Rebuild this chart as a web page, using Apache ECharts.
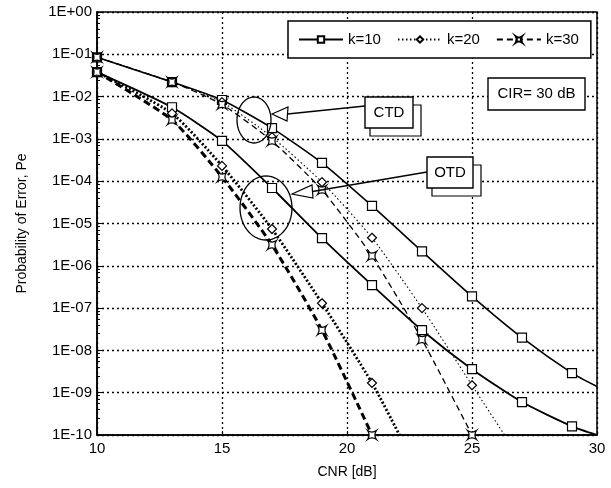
<!DOCTYPE html>
<html>
<head>
<meta charset="utf-8">
<script src="https://cdn.jsdelivr.net/npm/echarts@6/dist/echarts.min.js"></script>
<style>
  html, body { margin: 0; padding: 0; background: #fff; }
  #main { width: 611px; height: 488px; }
</style>
</head>
<body>
<div id="main"></div>
<script>
// values: CNR [dB] and probability of error Pe
const ctd10X = [10, 13, 15, 17, 19, 21, 23, 25, 27, 29, 30];
const ctd10P = [8.5e-2, 2.2e-2, 8.3e-3, 1.8e-3, 2.7e-4, 2.6e-5, 2.2e-6, 1.9e-7, 2.0e-8, 2.9e-9, 1.4e-9];
const ctd20X = [10, 13, 15, 17, 19, 21, 23, 25, 26.3];
const ctd20P = [8.5e-2, 2.2e-2, 7.4e-3, 1.1e-3, 9.5e-5, 4.6e-6, 1.0e-7, 1.5e-9, 1e-10];
const ctd30X = [10, 13, 15, 17, 19, 21, 23, 25];
const ctd30P = [8.5e-2, 2.2e-2, 6.5e-3, 8.9e-4, 6.2e-5, 1.7e-6, 1.8e-8, 1e-10];

const otd10X = [10, 13, 15, 17, 19, 21, 23, 25, 27, 29, 30];
const otd10P = [3.8e-2, 5.6e-3, 9.0e-4, 6.9e-5, 4.5e-6, 3.5e-7, 3.0e-8, 3.6e-9, 6.0e-10, 1.6e-10, 1e-10];
const otd20X = [10, 13, 15, 17, 19, 21, 22.1];
const otd20P = [3.8e-2, 4.0e-3, 2.3e-4, 7.4e-6, 1.3e-7, 1.7e-9, 1e-10];
const otd30X = [10, 13, 15, 17, 19, 21];
const otd30P = [3.8e-2, 2.8e-3, 1.26e-4, 3.1e-6, 3.0e-8, 1e-10];

const legendNames = ['k=10', 'k=20', 'k=30'];

const FONT = 'Liberation Sans, Arial, sans-serif';
const STAR = 'path://M0,0 Q5,3.5 10,0 Q6.5,5 10,10 Q5,6.5 0,10 Q3.5,5 0,0 Z';

// marker only on the measured (integer, inside) points
function pts(xs, ps) {
  return xs.map((x, i) => {
    const item = { value: [x, ps[i]] };
    if (!Number.isInteger(x) || x === 30) item.symbol = 'none';
    return item;
  });
}

function line(name, xs, ps, symbol, lineType, width) {
  return {
    name: name,
    type: 'line',
    data: pts(xs, ps),
    smooth: 0.2,
    symbol: symbol,
    symbolSize: 9,
    showAllSymbol: true,
    lineStyle: { color: '#000', width: width, type: lineType },
    itemStyle: { color: '#fff', borderColor: '#000', borderWidth: 1.2 },
    emphasis: { disabled: true },
    z: 3
  };
}

function ellipse(cx, cy, rx, ry) {
  const p = [];
  for (let i = 0; i < 60; i++) {
    const a = i / 60 * Math.PI * 2;
    p.push([cx + rx * Math.cos(a), cy + ry * Math.sin(a)]);
  }
  return { type: 'polygon', z: 100, shape: { points: p }, style: { fill: null, stroke: '#000', lineWidth: 1.3 } };
}

function box(x, y, w, h, text, shadow) {
  const out = [];
  if (shadow) {
    out.push({ type: 'rect', z: 100, shape: { x: x + 5, y: y + 8, width: w + 3, height: h },
      style: { fill: '#fff', stroke: '#000', lineWidth: 1.2 } });
  }
  out.push({ type: 'rect', z: 101, shape: { x: x, y: y, width: w, height: h },
    style: { fill: '#fff', stroke: '#000', lineWidth: 1.4 } });
  out.push({ type: 'text', z: 102, x: x + w / 2, y: y + h / 2,
    style: { text: text, font: '15px ' + FONT, fill: '#000', align: 'center', verticalAlign: 'middle' } });
  return out;
}

function arrow(from, tip, b1, b2) {
  return [
    { type: 'line', z: 100, shape: { x1: from[0], y1: from[1], x2: (b1[0] + b2[0]) / 2, y2: (b1[1] + b2[1]) / 2 },
      style: { stroke: '#000', lineWidth: 1.4 } },
    { type: 'polygon', z: 100, shape: { points: [tip, b1, b2] },
      style: { fill: '#fff', stroke: '#000', lineWidth: 1.2 } }
  ];
}

const chart = echarts.init(document.getElementById('main'), null, { renderer: 'canvas' });

const dotted = { color: '#000', width: 1.3, type: [2, 3] };

chart.setOption({
  animation: false,
  backgroundColor: '#fff',
  textStyle: { fontFamily: FONT, color: '#000' },
  grid: { left: 97, right: 14, top: 12, bottom: 53, show: true, borderColor: '#000', borderWidth: 1.5 },
  legend: {
    data: legendNames,
    left: 288,
    top: 21,
    padding: [11, 12, 11, 10],
    itemGap: 16,
    itemWidth: 44,
    itemHeight: 8,
    selectedMode: false,
    backgroundColor: '#fff',
    borderColor: '#000',
    borderWidth: 1.5,
    z: 50,
    textStyle: { fontFamily: FONT, fontSize: 15, color: '#000' }
  },
  xAxis: {
    type: 'value',
    min: 10,
    max: 30,
    interval: 5,
    name: 'CNR [dB]',
    nameLocation: 'middle',
    nameGap: 30,
    nameTextStyle: { fontFamily: FONT, fontSize: 14, color: '#000' },
    axisLine: { lineStyle: { color: '#000', width: 1.5 } },
    axisTick: { inside: true, length: 4, lineStyle: { color: '#000' } },
    axisLabel: { fontFamily: FONT, fontSize: 15, color: '#000', margin: 6 },
    splitLine: { show: true, lineStyle: dotted }
  },
  yAxis: {
    type: 'log',
    logBase: 10,
    min: 1e-10,
    max: 1,
    interval: 1,
    name: 'Probability of Error, Pe',
    nameLocation: 'middle',
    nameGap: 68,
    nameTextStyle: { fontFamily: FONT, fontSize: 14, color: '#000' },
    axisLine: { lineStyle: { color: '#000', width: 1.5 } },
    axisTick: { inside: true, length: 5, lineStyle: { color: '#000' } },
    minorTick: { show: true, splitNumber: 6, length: 3, lineStyle: { color: '#000' } },
    axisLabel: {
      fontFamily: FONT, fontSize: 15, color: '#000', margin: 5,
      formatter: v => {
        const e = Math.round(Math.log10(v));
        return '1E' + (e < 0 ? '-' : '+') + String(Math.abs(e)).padStart(2, '0');
      }
    },
    splitLine: { show: true, lineStyle: dotted }
  },
  series: [
    line('k=10', ctd10X, ctd10P, 'rect', 'solid', 1.6),
    line('k=20', ctd20X, ctd20P, 'diamond', [1.5, 2.5], 1.1),
    line('k=30', ctd30X, ctd30P, STAR, [6, 4], 1.3),
    line('k=10', otd10X, otd10P, 'rect', 'solid', 1.8),
    line('k=20', otd20X, otd20P, 'diamond', [2, 2], 2.8),
    line('k=30', otd30X, otd30P, STAR, [7, 4], 3)
  ],
  graphic: [
    ellipse(254, 120, 17, 23),
    ...arrow([365, 106], [272, 114], [288, 107], [287, 121]),
    ...box(365, 97, 48, 31, 'CTD', true),
    ellipse(266, 208, 26, 32),
    ...arrow([427, 172], [292, 194], [312, 185], [313, 198]),
    ...box(427, 157, 46, 31, 'OTD', true),
    ...box(488, 78, 97, 32, 'CIR= 30 dB', false)
  ]
});
</script>
</body>
</html>
